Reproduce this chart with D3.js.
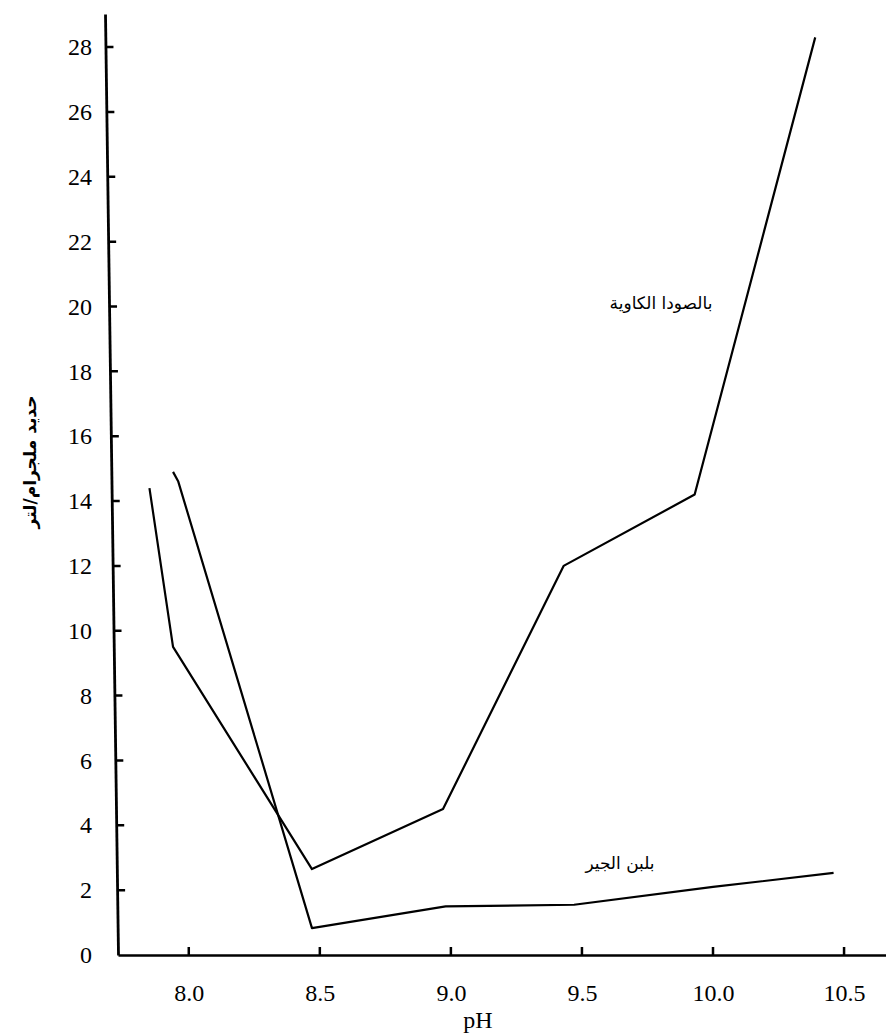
<!DOCTYPE html>
<html>
<head>
<meta charset="utf-8">
<script src="https://cdn.jsdelivr.net/npm/d3@7/dist/d3.min.js"></script>
<style>
  html, body { margin: 0; padding: 0; background: #fff; }
  svg { display: block; }
</style>
</head>
<body>
<svg id="chart" width="886" height="1034"></svg>
<script>
// ---- data ----
const xTicks = [8.0, 8.5, 9.0, 9.5, 10.0, 10.5];
const yTicks = [0, 2, 4, 6, 8, 10, 12, 14, 16, 18, 20, 22, 24, 26, 28];

// caustic soda (بالصودا الكاوية)
const sodaPH  = [7.85, 7.94, 8.47, 8.97, 9.43, 9.93, 10.39];
const sodaFe  = [14.4, 9.5, 2.65, 4.5, 12.0, 14.2, 28.3];

// milk of lime (بلبن الجير)
const limePH  = [7.94, 7.96, 8.47, 8.98, 9.47, 10.0, 10.46];
const limeFe  = [14.9, 14.6, 0.83, 1.5, 1.55, 2.1, 2.53];

const yTitle = "حديد ملجرام/لتر";
const xTitle = "pH";
const sodaLabel = "بالصودا الكاوية";
const limeLabel = "بلبن الجير";

// ---- layout ----
const svg = d3.select("#chart");
const x = d3.scaleLinear().domain([7.73, 10.66]).range([118, 886]);
const y = d3.scaleLinear().domain([0, 29.02]).range([955, 14]);
const tilt = 13 / 941; // y axis leans slightly in the original

const serif = "'Liberation Serif', 'Times New Roman', serif";
const arabic = "'DejaVu Sans', 'Noto Sans', sans-serif";

// x axis
const gx = svg.append("g").attr("transform", `translate(0,${y(0)})`)
  .call(d3.axisBottom(x).tickValues(xTicks).tickFormat(d3.format(".1f"))
        .tickSize(0).tickPadding(29));
gx.select(".domain").attr("stroke", "#000").attr("stroke-width", 2.5);
gx.selectAll(".tick text").attr("font-family", serif).attr("font-size", 24).attr("fill", "#000");

// y axis
const gy = svg.append("g").attr("transform", `translate(${x.range()[0]},0)`)
  .call(d3.axisLeft(y).tickValues(yTicks).tickFormat(d3.format("d"))
        .tickSize(0).tickPadding(26));
const deg = Math.atan(tilt) * 180 / Math.PI;
gy.select(".domain").attr("stroke", "#000").attr("stroke-width", 2.8)
  .attr("transform", `translate(0,${y(0)}) skewX(${deg}) translate(0,${-y(0)})`);
gy.selectAll(".tick text").attr("font-family", serif).attr("font-size", 24).attr("fill", "#000");

// tick marks drawn as a single path (inside-pointing, following the leaning y axis)
const x0 = x.range()[0];
let tickD = "";
xTicks.forEach(d => { tickD += `M${x(d)},${y(0)}V${y(0) - 8}`; });
yTicks.filter(d => d > 0).forEach(d => {
  const ax = x0 - (y(0) - y(d)) * tilt;
  tickD += `M${ax},${y(d)}H${ax + 8}`;
});
svg.append("path").attr("class", "ticks").attr("d", tickD)
  .attr("fill", "none").attr("stroke", "#000").attr("stroke-width", 2.5);

// lines
const line = d3.line().x(d => x(d[0])).y(d => y(d[1]));
const sodaPts = sodaPH.map((p, i) => [p, sodaFe[i]]);
const limePts = limePH.map((p, i) => [p, limeFe[i]]);

svg.append("path").datum(sodaPts).attr("d", line)
  .attr("fill", "none").attr("stroke", "#000").attr("stroke-width", 2.2)
  .attr("stroke-linejoin", "round");
svg.append("path").datum(limePts).attr("d", line)
  .attr("fill", "none").attr("stroke", "#000").attr("stroke-width", 2.2)
  .attr("stroke-linejoin", "round");

// labels
svg.append("text").attr("x", 661).attr("y", 309).attr("text-anchor", "middle")
  .attr("font-family", arabic).attr("font-size", 17).attr("direction", "rtl")
  .attr("unicode-bidi", "embed").text(sodaLabel);
svg.append("text").attr("x", 620).attr("y", 869).attr("text-anchor", "middle")
  .attr("font-family", arabic).attr("font-size", 17).attr("direction", "rtl")
  .attr("unicode-bidi", "embed").text(limeLabel);

svg.append("text").attr("x", 478).attr("y", 1028).attr("text-anchor", "middle")
  .attr("font-family", serif).attr("font-size", 24).text(xTitle);

svg.append("text")
  .attr("transform", `translate(36,462) rotate(-90)`)
  .attr("text-anchor", "middle")
  .attr("font-family", arabic).attr("font-size", 17).attr("font-weight", "bold")
  .attr("direction", "rtl").attr("unicode-bidi", "embed")
  .text(yTitle);
</script>
</body>
</html>
